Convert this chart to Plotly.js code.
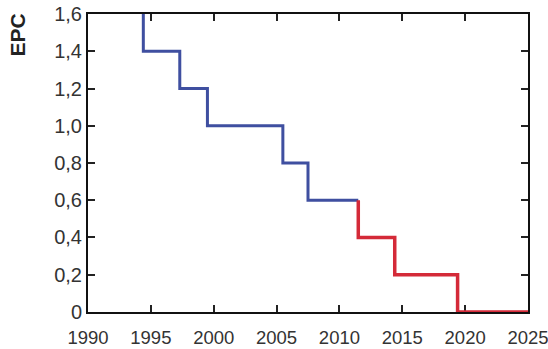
<!DOCTYPE html>
<html>
<head>
<meta charset="utf-8">
<script src="https://cdn.plot.ly/plotly-3.0.1.min.js"></script>
<style>html,body{margin:0;padding:0;background:#fff;}#chart{width:548px;height:349px;}</style>
</head>
<body>
<div id="chart"></div>
<script>
// Step change years and EPC levels (blue period)
const blueYears  = [1993.0, 1994.4, 1997.3, 1999.5, 2005.5, 2007.5, 2011.5];
const blueLevels = [1.8,    1.4,    1.2,    1.0,    0.8,    0.6,    0.6];
// Red period
const redYears   = [2011.5, 2011.5, 2014.4, 2019.4, 2025.0];
const redLevels  = [0.6,    0.4,    0.2,    0.0,    0.0];

const xTickVals = [1990, 1995, 2000, 2005, 2010, 2015, 2020, 2025];
const xTickText = ['1990','1995','2000','2005','2010','2015','2020','2025'];
const yTickVals = [0, 0.2, 0.4, 0.6, 0.8, 1.0, 1.2, 1.4, 1.6];
const yTickText = ['0','0,2','0,4','0,6','0,8','1,0','1,2','1,4','1,6'];

const fam = '"Liberation Sans", Arial, sans-serif';

const traces = [
  {x: blueYears, y: blueLevels, mode: 'lines', line: {shape: 'hv', color: '#3f4fa0', width: 3}, hoverinfo: 'skip'},
  {x: redYears, y: redLevels, mode: 'lines', line: {shape: 'hv', color: '#d42a38', width: 3.5}, hoverinfo: 'skip'}
];

const layout = {
  width: 548, height: 349,
  margin: {l: 88, r: 20, t: 14, b: 37},
  paper_bgcolor: '#fff', plot_bgcolor: '#fff',
  showlegend: false,
  xaxis: {
    range: [1989.999, 2025.001], tickvals: xTickVals, ticktext: xTickText,
    showgrid: false, zeroline: false, showline: true, linecolor: '#111', linewidth: 2,
    mirror: 'ticks', ticks: 'inside', ticklen: 7, tickwidth: 2, tickcolor: '#222',
    tickfont: {family: fam, size: 18.5, color: '#333'}, layer: 'below traces', ticklabelstandoff: 8,
    ticklabeloverflow: 'allow'
  },
  yaxis: {
    range: [-0.0005, 1.6005], tickvals: yTickVals, ticktext: yTickText,
    showgrid: false, zeroline: false, showline: true, linecolor: '#111', linewidth: 2,
    mirror: 'ticks', ticks: 'inside', ticklen: 7, tickwidth: 2, tickcolor: '#222',
    tickfont: {family: fam, size: 20, color: '#333'}, layer: 'below traces', ticklabeloverflow: 'allow'
  },
  annotations: [{
    text: '<b>EPC</b>', xref: 'paper', yref: 'paper', x: -0.16, y: 0.93,
    xanchor: 'center', yanchor: 'middle', textangle: -90, showarrow: false,
    font: {family: fam, size: 21, color: '#222'}
  }]
};

Plotly.newPlot('chart', traces, layout, {displayModeBar: false, staticPlot: true});
</script>
</body>
</html>
